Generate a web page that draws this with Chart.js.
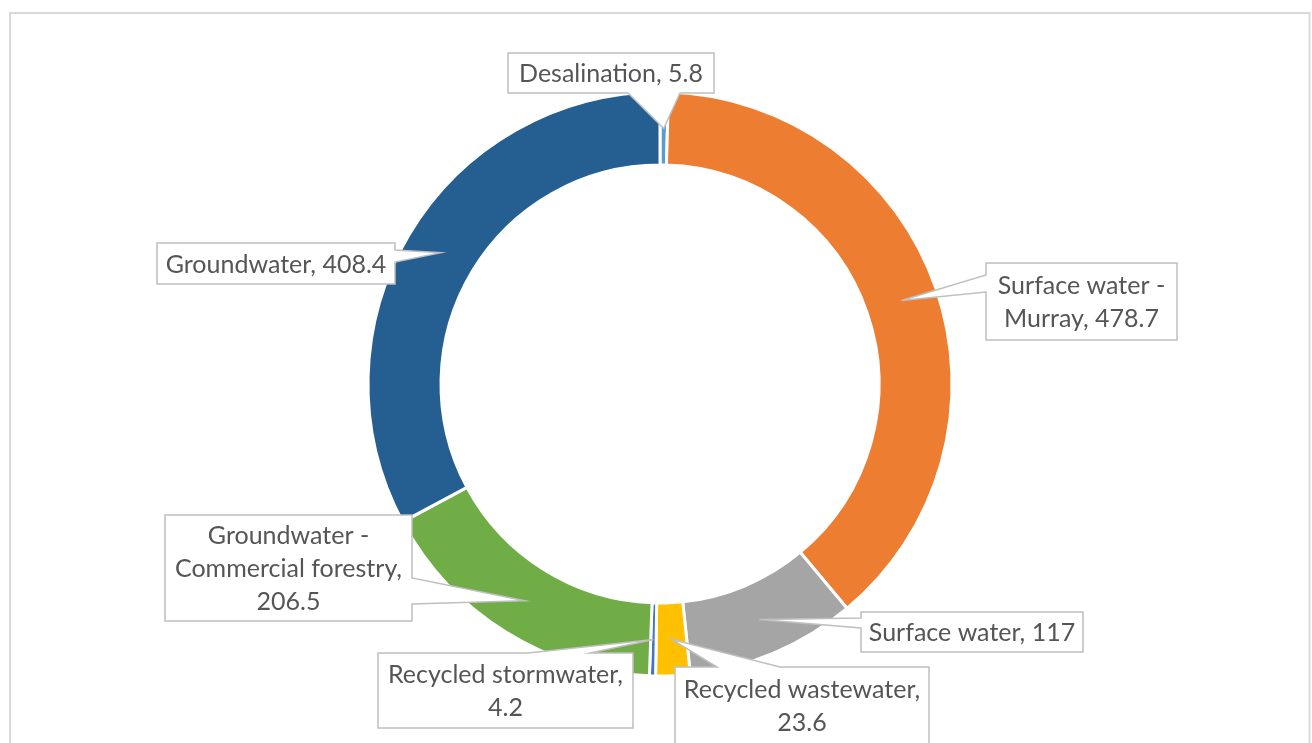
<!DOCTYPE html>
<html>
<head>
<meta charset="utf-8">
<script src="https://cdn.jsdelivr.net/npm/chart.js@4"></script>
<style>
  body { margin: 0; background: #fff; }
  #wrap { width: 1312px; height: 743px; position: relative; }
</style>
</head>
<body>
<div id="wrap"><canvas id="waterChart"></canvas></div>
<script>
// Water sources (GL), clockwise from 12 o'clock
const sources = [
  "Desalination",
  "Surface water - Murray",
  "Surface water",
  "Recycled wastewater",
  "Recycled stormwater",
  "Groundwater - Commercial forestry",
  "Groundwater"
];
const volumes = [5.8, 478.7, 117, 23.6, 4.2, 206.5, 408.4];
const sliceColors = ["#5B9BD5", "#ED7D31", "#A5A5A5", "#FFC000", "#4472C4", "#70AD47", "#255E91"];

// label boxes: where each sits and which side its pointer leaves from
const callouts = [
  { x: 508, y: 53, w: 206, h: 40, side: "bottom", base: [628, 680] },
  { x: 986, y: 263, w: 191, h: 77, side: "left", base: [275, 292] },
  { x: 861, y: 612, w: 222, h: 40, side: "left", base: [618, 628] },
  { x: 675, y: 667, w: 254, h: 77, side: "top", base: [717, 780] },
  { x: 378, y: 653, w: 255, h: 75, side: "top", base: [528, 590] },
  { x: 165, y: 515, w: 247, h: 106, side: "right", base: [578, 604] },
  { x: 157, y: 243, w: 238, h: 41, side: "right", base: [250, 262] }
];

const FONT_SIZE = 25;
const LINE_H = 33;

function wrapText(ctx, text, maxWidth) {
  const words = text.split(" ");
  const lines = [];
  let cur = "";
  words.forEach((w) => {
    const test = cur ? cur + " " + w : w;
    if (cur && ctx.measureText(test).width > maxWidth) {
      lines.push(cur);
      cur = w;
    } else {
      cur = test;
    }
  });
  if (cur) lines.push(cur);
  return lines;
}

// box outline with a wedge pointing at the slice
function calloutPath(ctx, c, tip) {
  const { x, y, w, h } = c;
  const [a, b] = c.base;
  ctx.beginPath();
  ctx.moveTo(x, y);
  if (c.side === "top") {
    ctx.lineTo(a, y);
    ctx.lineTo(tip.x, tip.y);
    ctx.lineTo(b, y);
  }
  ctx.lineTo(x + w, y);
  if (c.side === "right") {
    ctx.lineTo(x + w, a);
    ctx.lineTo(tip.x, tip.y);
    ctx.lineTo(x + w, b);
  }
  ctx.lineTo(x + w, y + h);
  if (c.side === "bottom") {
    ctx.lineTo(b, y + h);
    ctx.lineTo(tip.x, tip.y);
    ctx.lineTo(a, y + h);
  }
  ctx.lineTo(x, y + h);
  if (c.side === "left") {
    ctx.lineTo(x, b);
    ctx.lineTo(tip.x, tip.y);
    ctx.lineTo(x, a);
  }
  ctx.closePath();
}

const frame = {
  id: "frame",
  beforeDraw(chart) {
    const ctx = chart.ctx;
    ctx.save();
    ctx.fillStyle = "#fff";
    ctx.fillRect(0, 0, chart.width, chart.height);
    ctx.strokeStyle = "#d9d9d9";
    ctx.lineWidth = 2;
    ctx.strokeRect(10, 13, 1299.5, 800);
    ctx.restore();
  }
};

const calloutLabels = {
  id: "calloutLabels",
  afterDatasetsDraw(chart) {
    const ctx = chart.ctx;
    const arcs = chart.getDatasetMeta(0).data;
    ctx.save();
    ctx.font = FONT_SIZE + "px Lato";
    arcs.forEach((arc, i) => {
      const c = callouts[i];
      const tip = arc.tooltipPosition(true);
      calloutPath(ctx, c, tip);
      ctx.fillStyle = "#fff";
      ctx.fill();
      ctx.strokeStyle = "#bfbfbf";
      ctx.lineWidth = 1.5;
      ctx.lineJoin = "miter";
      ctx.stroke();

      const lines = wrapText(ctx, sources[i] + ", " + volumes[i], c.w - 8);
      ctx.fillStyle = "#555555";
      ctx.textAlign = "center";
      ctx.textBaseline = "middle";
      const cx = c.x + c.w / 2;
      const top = c.y + c.h / 2 - (lines.length - 1) * LINE_H / 2;
      lines.forEach((ln, k) => ctx.fillText(ln, cx, top + k * LINE_H + 1));
    });
    ctx.restore();
  }
};

new Chart(document.getElementById("waterChart"), {
  type: "doughnut",
  data: {
    labels: sources,
    datasets: [{
      data: volumes,
      backgroundColor: sliceColors,
      borderColor: "#ffffff",
      borderWidth: 3
    }]
  },
  options: {
    responsive: true,
    maintainAspectRatio: false,
    animation: false,
    cutout: "75%",
    layout: { padding: { top: 90.5, bottom: 65.5, left: 8, right: 0 } },
    plugins: {
      legend: { display: false },
      tooltip: { enabled: false }
    }
  },
  plugins: [frame, calloutLabels]
});
</script>
</body>
</html>
